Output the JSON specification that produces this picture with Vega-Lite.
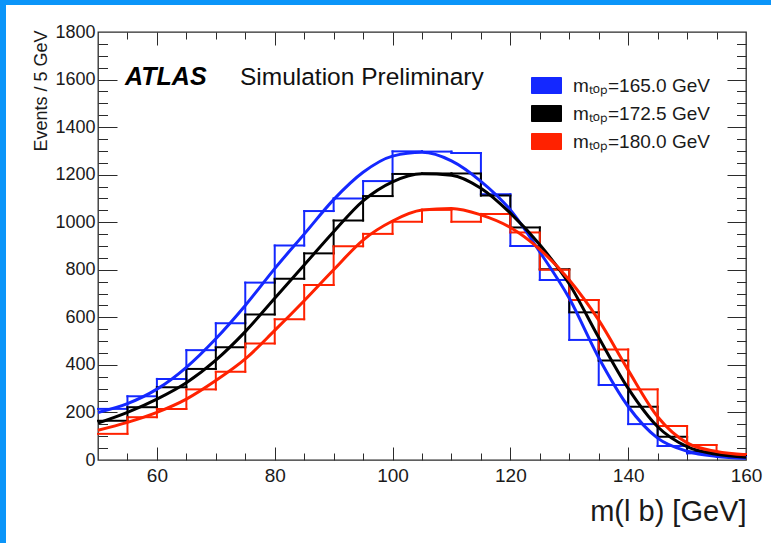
{
  "$schema": "https://vega.github.io/schema/vega-lite/v6.json",
  "background": "white",
  "padding": 0,
  "spacing": 0,
  "bounds": "flush",
  "config": {"font": "Liberation Sans", "view": {"stroke": null}},
  "datasets": {
    "hist": [
      {"lo":50,"hi":55,"mtop":"165.0","events":215},{"lo":50,"hi":55,"mtop":"172.5","events":165},{"lo":50,"hi":55,"mtop":"180.0","events":110},
      {"lo":55,"hi":60,"mtop":"165.0","events":268},{"lo":55,"hi":60,"mtop":"172.5","events":222},{"lo":55,"hi":60,"mtop":"180.0","events":180},
      {"lo":60,"hi":65,"mtop":"165.0","events":341},{"lo":60,"hi":65,"mtop":"172.5","events":306},{"lo":60,"hi":65,"mtop":"180.0","events":215},
      {"lo":65,"hi":70,"mtop":"165.0","events":462},{"lo":65,"hi":70,"mtop":"172.5","events":383},{"lo":65,"hi":70,"mtop":"180.0","events":297},
      {"lo":70,"hi":75,"mtop":"165.0","events":575},{"lo":70,"hi":75,"mtop":"172.5","events":474},{"lo":70,"hi":75,"mtop":"180.0","events":371},
      {"lo":75,"hi":80,"mtop":"165.0","events":746},{"lo":75,"hi":80,"mtop":"172.5","events":612},{"lo":75,"hi":80,"mtop":"180.0","events":490},
      {"lo":80,"hi":85,"mtop":"165.0","events":902},{"lo":80,"hi":85,"mtop":"172.5","events":762},{"lo":80,"hi":85,"mtop":"180.0","events":592},
      {"lo":85,"hi":90,"mtop":"165.0","events":1047},{"lo":85,"hi":90,"mtop":"172.5","events":869},{"lo":85,"hi":90,"mtop":"180.0","events":736},
      {"lo":90,"hi":95,"mtop":"165.0","events":1100},{"lo":90,"hi":95,"mtop":"172.5","events":1007},{"lo":90,"hi":95,"mtop":"180.0","events":899},
      {"lo":95,"hi":100,"mtop":"165.0","events":1173},{"lo":95,"hi":100,"mtop":"172.5","events":1110},{"lo":95,"hi":100,"mtop":"180.0","events":951},
      {"lo":100,"hi":105,"mtop":"165.0","events":1298},{"lo":100,"hi":105,"mtop":"172.5","events":1203},{"lo":100,"hi":105,"mtop":"180.0","events":1002},
      {"lo":105,"hi":110,"mtop":"165.0","events":1297},{"lo":105,"hi":110,"mtop":"172.5","events":1205},{"lo":105,"hi":110,"mtop":"180.0","events":1052},
      {"lo":110,"hi":115,"mtop":"165.0","events":1291},{"lo":110,"hi":115,"mtop":"172.5","events":1205},{"lo":110,"hi":115,"mtop":"180.0","events":1002},
      {"lo":115,"hi":120,"mtop":"165.0","events":1118},{"lo":115,"hi":120,"mtop":"172.5","events":1112},{"lo":115,"hi":120,"mtop":"180.0","events":1035},
      {"lo":120,"hi":125,"mtop":"165.0","events":900},{"lo":120,"hi":125,"mtop":"172.5","events":978},{"lo":120,"hi":125,"mtop":"180.0","events":957},
      {"lo":125,"hi":130,"mtop":"165.0","events":757},{"lo":125,"hi":130,"mtop":"172.5","events":802},{"lo":125,"hi":130,"mtop":"180.0","events":800},
      {"lo":130,"hi":135,"mtop":"165.0","events":505},{"lo":130,"hi":135,"mtop":"172.5","events":621},{"lo":130,"hi":135,"mtop":"180.0","events":673},
      {"lo":135,"hi":140,"mtop":"165.0","events":315},{"lo":135,"hi":140,"mtop":"172.5","events":418},{"lo":135,"hi":140,"mtop":"180.0","events":465},
      {"lo":140,"hi":145,"mtop":"165.0","events":151},{"lo":140,"hi":145,"mtop":"172.5","events":224},{"lo":140,"hi":145,"mtop":"180.0","events":297},
      {"lo":145,"hi":150,"mtop":"165.0","events":59},{"lo":145,"hi":150,"mtop":"172.5","events":98},{"lo":145,"hi":150,"mtop":"180.0","events":143},
      {"lo":150,"hi":155,"mtop":"165.0","events":28},{"lo":150,"hi":155,"mtop":"172.5","events":35},{"lo":150,"hi":155,"mtop":"180.0","events":63},
      {"lo":155,"hi":160,"mtop":"165.0","events":17},{"lo":155,"hi":160,"mtop":"172.5","events":21},{"lo":155,"hi":160,"mtop":"180.0","events":25}
    ],
    "fit": [
      {"m":50,"mtop":"165.0","fit":200},{"m":50,"mtop":"172.5","fit":155},{"m":50,"mtop":"180.0","fit":125},
      {"m":55,"mtop":"165.0","fit":237},{"m":55,"mtop":"172.5","fit":200},{"m":55,"mtop":"180.0","fit":158},
      {"m":60,"mtop":"165.0","fit":298},{"m":60,"mtop":"172.5","fit":256},{"m":60,"mtop":"180.0","fit":200},
      {"m":65,"mtop":"165.0","fit":390},{"m":65,"mtop":"172.5","fit":325},{"m":65,"mtop":"180.0","fit":256},
      {"m":70,"mtop":"165.0","fit":510},{"m":70,"mtop":"172.5","fit":420},{"m":70,"mtop":"180.0","fit":334},
      {"m":75,"mtop":"165.0","fit":650},{"m":75,"mtop":"172.5","fit":540},{"m":75,"mtop":"180.0","fit":425},
      {"m":80,"mtop":"165.0","fit":805},{"m":80,"mtop":"172.5","fit":680},{"m":80,"mtop":"180.0","fit":545},
      {"m":85,"mtop":"165.0","fit":950},{"m":85,"mtop":"172.5","fit":820},{"m":85,"mtop":"180.0","fit":670},
      {"m":90,"mtop":"165.0","fit":1095},{"m":90,"mtop":"172.5","fit":960},{"m":90,"mtop":"180.0","fit":800},
      {"m":95,"mtop":"165.0","fit":1210},{"m":95,"mtop":"172.5","fit":1090},{"m":95,"mtop":"180.0","fit":925},
      {"m":100,"mtop":"165.0","fit":1278},{"m":100,"mtop":"172.5","fit":1170},{"m":100,"mtop":"180.0","fit":1005},
      {"m":105,"mtop":"165.0","fit":1294},{"m":105,"mtop":"172.5","fit":1204},{"m":105,"mtop":"180.0","fit":1051},
      {"m":110,"mtop":"165.0","fit":1258},{"m":110,"mtop":"172.5","fit":1198},{"m":110,"mtop":"180.0","fit":1058},
      {"m":115,"mtop":"165.0","fit":1172},{"m":115,"mtop":"172.5","fit":1143},{"m":115,"mtop":"180.0","fit":1031},
      {"m":120,"mtop":"165.0","fit":1052},{"m":120,"mtop":"172.5","fit":1038},{"m":120,"mtop":"180.0","fit":978},
      {"m":125,"mtop":"165.0","fit":875},{"m":125,"mtop":"172.5","fit":905},{"m":125,"mtop":"180.0","fit":886},
      {"m":130,"mtop":"165.0","fit":680},{"m":130,"mtop":"172.5","fit":740},{"m":130,"mtop":"180.0","fit":757},
      {"m":135,"mtop":"165.0","fit":430},{"m":135,"mtop":"172.5","fit":515},{"m":135,"mtop":"180.0","fit":588},
      {"m":140,"mtop":"165.0","fit":225},{"m":140,"mtop":"172.5","fit":301},{"m":140,"mtop":"180.0","fit":378},
      {"m":145,"mtop":"165.0","fit":92},{"m":145,"mtop":"172.5","fit":140},{"m":145,"mtop":"180.0","fit":182},
      {"m":150,"mtop":"165.0","fit":37},{"m":150,"mtop":"172.5","fit":56},{"m":150,"mtop":"180.0","fit":72},
      {"m":155,"mtop":"165.0","fit":15},{"m":155,"mtop":"172.5","fit":24},{"m":155,"mtop":"180.0","fit":36},
      {"m":160,"mtop":"165.0","fit":7},{"m":160,"mtop":"172.5","fit":12},{"m":160,"mtop":"180.0","fit":22}
    ]
  },
  "vconcat": [
    {
      "width": 771, "height": 5,
      "view": {"fill": "#0b95f9", "stroke": null},
      "data": {"values": [{}]},
      "mark": {"type": "rect", "color": "#0b95f9", "opacity": 0}
    },
    {
      "spacing": 92,
      "bounds": "flush",
      "hconcat": [
        {
          "width": 6, "height": 538,
          "view": {"fill": "#0b95f9", "stroke": null},
          "data": {"values": [{}]},
          "mark": {"type": "rect", "color": "#0b95f9", "opacity": 0}
        },
        {
          "spacing": 26,
          "bounds": "flush",
          "vconcat": [
            {
              "width": 648, "height": 1,
              "view": {"stroke": null},
              "data": {"values": [{}]},
              "mark": {"type": "rect", "opacity": 0}
            },
            {
              "width": 648, "height": 428,
              "view": {"stroke": "#2b2b2b", "strokeWidth": 1.3, "fill": "white"},
              "resolve": {"axis": {"x": "independent", "y": "independent"}},
              "layer": [
                {
                  "data": {"name": "hist"},
                  "mark": {"type": "rule", "strokeWidth": 2, "strokeCap": "square"},
                  "encoding": {
                    "x": {"field": "lo", "type": "quantitative", "scale": {"domain": [50, 160], "nice": false, "zero": false},
                      "axis": {"orient": "bottom", "values": [60, 80, 100, 120, 140, 160], "ticks": false, "domain": false, "grid": false,
                        "labelFontSize": 19, "labelPadding": 6, "labelColor": "#1a1a1a", "labelFlush": false,
                        "title": "m(l b) [GeV]", "titleFontSize": 29, "titleFontWeight": "normal", "titleColor": "#1a1a1a",
                        "titleAnchor": "end", "titleAlign": "right", "titleBaseline": "alphabetic", "titleX": 648, "titleY": 60}},
                    "x2": {"field": "hi"},
                    "y": {"field": "events", "type": "quantitative", "scale": {"domain": [0, 1800], "nice": false, "zero": true},
                      "axis": {"orient": "left", "values": [0, 200, 400, 600, 800, 1000, 1200, 1400, 1600, 1800], "format": "d", "ticks": false, "domain": false, "grid": false,
                        "labelFontSize": 18, "labelPadding": 3, "labelColor": "#1a1a1a", "labelFlush": false,
                        "title": "Events / 5 GeV", "titleFontSize": 18, "titleFontWeight": "normal", "titleColor": "#1a1a1a",
                        "titleAngle": -90, "titleAlign": "right", "titleBaseline": "middle", "titleX": -57, "titleY": -2}},
                    "color": {"field": "mtop", "type": "nominal",
                      "scale": {"domain": ["165.0", "172.5", "180.0"], "range": ["#1428ff", "#000000", "#ff2200"]},
                      "legend": {"orient": "none", "legendX": 536, "legendY": 75, "padding": 0, "title": null,
                        "symbolType": "M-1.5,-0.8H1.5V0.8H-1.5Z", "symbolSize": 400, "symbolStrokeWidth": 1,
                        "labelFontSize": 19, "labelColor": "#1a1a1a", "labelOffset": 16, "rowPadding": 7,
                        "labelExpr": "'mₜₒₚ=' + datum.label + ' GeV'",
                        "encode": {"symbols": {"update": {"fill": {"scale": "color", "field": "value"}, "fillOpacity": {"value": 1}, "stroke": {"value": "#333333"}, "strokeWidth": {"value": 1}}}}}}
                  }
                },
                {
                  "data": {"name": "hist"},
                  "transform": [
                    {"window": [{"op": "lag", "field": "events", "as": "prev"}], "groupby": ["mtop"], "sort": [{"field": "lo", "order": "ascending"}]}
                  ],
                  "mark": {"type": "rule", "strokeWidth": 2, "strokeCap": "square"},
                  "encoding": {
                    "x": {"field": "lo", "type": "quantitative", "scale": {"domain": [50, 160], "nice": false, "zero": false},
                      "axis": {"orient": "bottom", "values": [60, 80, 100, 120, 140], "labels": false, "domain": false, "grid": false,
                        "ticks": true, "tickSize": -13, "tickColor": "#2b2b2b", "tickWidth": 1, "title": null}},
                    "y": {"field": "prev", "type": "quantitative", "scale": {"domain": [0, 1800], "nice": false},
                      "axis": {"orient": "left", "values": [200, 400, 600, 800, 1000, 1200, 1400, 1600], "labels": false, "domain": false, "grid": false,
                        "ticks": true, "tickSize": -19, "tickColor": "#2b2b2b", "tickWidth": 1, "title": null}},
                    "y2": {"field": "events"},
                    "color": {"field": "mtop", "type": "nominal"}
                  }
                },
                {
                  "data": {"name": "fit"},
                  "mark": {"type": "line", "strokeWidth": 3, "interpolate": "monotone"},
                  "encoding": {
                    "x": {"field": "m", "type": "quantitative", "scale": {"domain": [50, 160], "nice": false, "zero": false},
                      "axis": {"orient": "bottom", "values": [55, 65, 70, 75, 85, 90, 95, 105, 110, 115, 125, 130, 135, 145, 150, 155], "labels": false, "domain": false, "grid": false,
                        "ticks": true, "tickSize": -7, "tickColor": "#2b2b2b", "tickWidth": 1, "title": null}},
                    "y": {"field": "fit", "type": "quantitative", "scale": {"domain": [0, 1800], "nice": false},
                      "axis": {"orient": "left", "values": [50, 100, 150, 250, 300, 350, 450, 500, 550, 650, 700, 750, 850, 900, 950, 1050, 1100, 1150, 1250, 1300, 1350, 1450, 1500, 1550, 1650, 1700, 1750], "labels": false, "domain": false, "grid": false,
                        "ticks": true, "tickSize": -9.5, "tickColor": "#2b2b2b", "tickWidth": 1, "title": null}},
                    "color": {"field": "mtop", "type": "nominal"},
                    "detail": {"field": "mtop"}
                  }
                },
                {
                  "data": {"name": "fit"},
                  "mark": {"type": "point", "opacity": 0},
                  "encoding": {
                    "x": {"field": "m", "type": "quantitative", "scale": {"domain": [50, 160], "nice": false, "zero": false},
                      "axis": {"orient": "top", "values": [60, 80, 100, 120, 140], "labels": false, "domain": false, "grid": false,
                        "ticks": true, "tickSize": -13, "tickColor": "#2b2b2b", "tickWidth": 1, "title": null}},
                    "y": {"field": "fit", "type": "quantitative", "scale": {"domain": [0, 1800], "nice": false},
                      "axis": {"orient": "right", "values": [200, 400, 600, 800, 1000, 1200, 1400, 1600], "labels": false, "domain": false, "grid": false,
                        "ticks": true, "tickSize": -19, "tickColor": "#2b2b2b", "tickWidth": 1, "title": null}}
                  }
                },
                {
                  "data": {"name": "fit"},
                  "mark": {"type": "point", "opacity": 0},
                  "encoding": {
                    "x": {"field": "m", "type": "quantitative", "scale": {"domain": [50, 160], "nice": false, "zero": false},
                      "axis": {"orient": "top", "values": [55, 65, 70, 75, 85, 90, 95, 105, 110, 115, 125, 130, 135, 145, 150, 155], "labels": false, "domain": false, "grid": false,
                        "ticks": true, "tickSize": -7, "tickColor": "#2b2b2b", "tickWidth": 1, "title": null}},
                    "y": {"field": "fit", "type": "quantitative", "scale": {"domain": [0, 1800], "nice": false},
                      "axis": {"orient": "right", "values": [50, 100, 150, 250, 300, 350, 450, 500, 550, 650, 700, 750, 850, 900, 950, 1050, 1100, 1150, 1250, 1300, 1350, 1450, 1500, 1550, 1650, 1700, 1750], "labels": false, "domain": false, "grid": false,
                        "ticks": true, "tickSize": -9.5, "tickColor": "#2b2b2b", "tickWidth": 1, "title": null}}
                  }
                },
                {
                  "data": {"values": [{}]},
                  "mark": {"type": "text", "text": "ATLAS", "fontSize": 25, "fontWeight": "bold", "fontStyle": "italic", "align": "left", "baseline": "alphabetic", "color": "#000000"},
                  "encoding": {
                    "x": {"datum": 54.6, "type": "quantitative", "scale": {"domain": [50, 160], "nice": false, "zero": false}, "axis": null},
                    "y": {"datum": 1577, "type": "quantitative", "scale": {"domain": [0, 1800], "nice": false}, "axis": null}
                  }
                },
                {
                  "data": {"values": [{}]},
                  "mark": {"type": "text", "text": "Simulation Preliminary", "fontSize": 24.5, "align": "left", "baseline": "alphabetic", "color": "#111111"},
                  "encoding": {
                    "x": {"datum": 74.1, "type": "quantitative", "scale": {"domain": [50, 160], "nice": false, "zero": false}, "axis": null},
                    "y": {"datum": 1577, "type": "quantitative", "scale": {"domain": [0, 1800], "nice": false}, "axis": null}
                  }
                }
              ]
            }
          ]
        }
      ]
    }
  ]
}
